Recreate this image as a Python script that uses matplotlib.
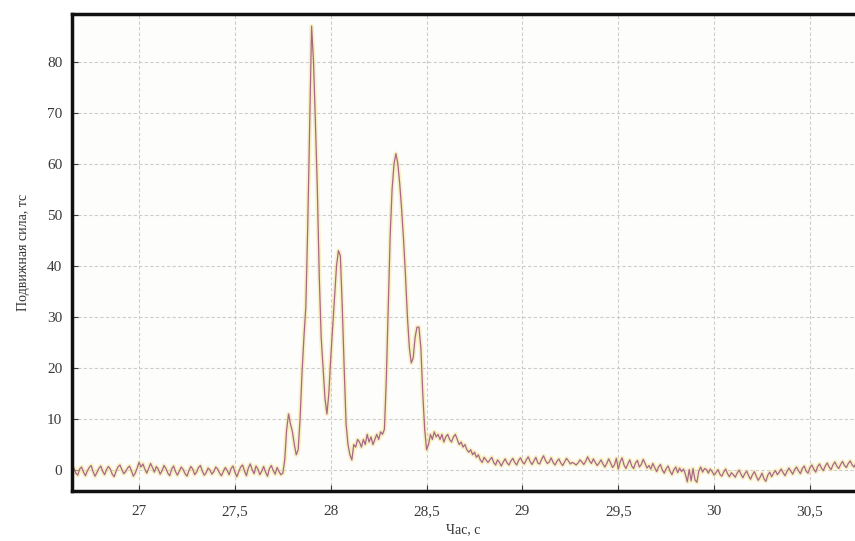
import numpy as np
import matplotlib
matplotlib.use('Agg')
from matplotlib import pyplot as plt

# signal sampled every 0.01 s starting at 26.65 s
t_start = 26.65
dt = 0.01
force = [
    -0.3, 0.4, -0.6, -1.0, 0.2, 0.6, -0.4, -1.1, -0.2, 0.5,
    0.9, -0.3, -1.2, -0.5, 0.3, 0.8, -0.2, -0.9, 0.1, 0.7,
    0.2, -0.8, -1.3, -0.2, 0.6, 1.0, 0.1, -0.7, -0.3, 0.4,
    0.8, -0.1, -1.2, -0.6, 0.4, 1.5, 0.6, 1.2, 0.2, -0.6,
    0.3, 1.3, 0.5, -0.4, 0.7, 0.2, -0.8, -0.1, 0.9, 0.3,
    -0.6, -1.1, 0.2, 0.8, -0.3, -1.0, -0.2, 0.6, 0.1, -0.7,
    -1.2, -0.1, 0.7, 0.2, -0.9, -0.4, 0.5, 0.9, -0.2, -1.0,
    -0.5, 0.4, 0.0, -0.8, -0.3, 0.6, 0.2, -0.6, -1.1, -0.2,
    0.5, -0.1, -0.9, 0.3, 0.8, -0.4, -1.3, -0.3, 0.6, 1.0,
    -0.2, -1.1, 0.4, 1.2, 0.1, -0.7, 0.8, 0.2, -0.9, -0.2,
    0.7, -0.4, -1.2, 0.3, 0.9, -0.1, -0.8, 0.5, -0.3, -0.9,
    -0.6, 2.0, 8.0, 11.0, 9.0, 7.5, 5.0, 3.0, 4.0, 10.0,
    19, 26, 32, 48, 68, 87, 80, 68, 55, 38,
    26, 20, 14, 11, 15, 22, 28, 34, 40, 43,
    42, 32, 20, 9, 5, 3, 2, 5, 4.5, 6,
    5.5, 4.5, 6, 5, 7, 5.5, 6.5, 5, 6, 7,
    6, 7.5, 7, 8, 18, 32, 46, 55, 60, 62,
    60, 56, 51, 45, 38, 30, 24, 21, 22, 26,
    28, 28, 24, 15, 8, 4, 5, 7, 6, 7.5,
    6.5, 7, 6, 7, 5.5, 6.5, 7, 6, 5.5, 6.5,
    7, 6, 5, 5.5, 4.5, 5, 4, 3.5, 4, 3,
    3.5, 2.5, 3, 2, 1.5, 2.5, 2, 1.5, 2, 2.5,
    1.5, 1.0, 2.0, 1.5, 0.8, 1.6, 2.2, 1.4, 1.0, 1.8,
    2.3, 1.5, 1.0, 1.9, 2.4, 1.6, 1.2, 2.0, 2.6, 1.7,
    1.1, 1.8, 2.5, 1.4, 1.2, 2.1, 2.8, 1.9, 1.3, 1.6,
    2.4, 1.5, 1.0, 1.7, 2.2, 1.4, 0.9, 1.6, 2.3, 1.8,
    1.2, 1.5, 1.3, 1.0, 1.4, 2.0, 1.6, 1.1, 1.7, 2.6,
    1.8, 1.3, 2.2, 1.5, 0.9, 1.4, 2.0, 1.2, 0.6, 1.3,
    2.2, 1.4, 0.5, 1.0, 2.3, 0.2, 1.6, 2.4, 1.0, 0.3,
    1.2, 2.0, 0.8, 0.3, 1.4, 1.9, 0.6, 1.1, 2.1, 1.3,
    0.4, 0.9, 0.2, 1.3, 0.5, -0.3, 0.6, 1.1, 0.0, -0.6,
    0.3, 0.8, -0.2, -0.9, 0.1, 0.6, -0.5, 0.4, -0.3, 0.2,
    -0.8, -2.3, 0.1, -2.1, 0.3, -1.9, -2.4, -0.2, 0.6, -0.4,
    0.3, 0.1, -0.6, 0.2, -0.3, -1.0, -0.5, 0.1, -0.8, -1.2,
    -0.4, 0.2, -0.7, -1.3, -0.5, -0.9, -1.4, -0.6, 0.0, -0.8,
    -1.5, -0.7, -0.2, -1.1, -1.8, -0.9, -0.3, -1.2, -2.0, -1.4,
    -0.6, -1.7, -2.2, -1.0, -0.4, -1.3, -0.6, -0.1, -0.9, -0.4,
    0.2, -0.5, -1.1, -0.3, 0.4, -0.2, -0.8, 0.1, 0.6, -0.1,
    -0.7, 0.3, 0.8, -0.2, -0.6, 0.5, 1.0, 0.2, -0.4, 0.7,
    1.2, 0.4, -0.1, 0.8, 1.4, 0.6, 0.1, 1.0, 1.6, 0.8,
    0.3, 1.1, 1.7, 0.9, 0.5, 1.3, 1.8, 1.0, 0.6, 1.4,
]
x_ticks = [27, 27.5, 28, 28.5, 29, 29.5, 30, 30.5]
x_tick_labels = ['27', '27,5', '28', '28,5', '29', '29,5', '30', '30,5']
y_ticks = [0, 10, 20, 30, 40, 50, 60, 70, 80]

time = t_start + dt * np.arange(len(force))

plt.rcParams['font.family'] = ['Liberation Serif', 'DejaVu Serif']

fig = plt.figure(figsize=(8.55, 5.41), dpi=100)
ax = fig.add_axes([0.0842, 0.0924, 0.9158, 0.882])
ax.set_facecolor('#fdfdfb')

# light yellow halo + thin line on top
ax.plot(time, force, color='#f3e48a', lw=3.2, alpha=0.5, solid_joinstyle='round')
ax.plot(time, force, color='#a86888', lw=0.9)

ax.set_xlim(26.65, 30.735)
ax.set_ylim(-4.1, 89.4)
ax.set_xticks(x_ticks)
ax.set_xticklabels(x_tick_labels)
ax.set_yticks(y_ticks)
ax.tick_params(labelsize=11, colors='#3a3a3a', length=4, width=0.8, direction='in')
ax.tick_params(axis='x', pad=10)
ax.tick_params(axis='y', pad=7)
ax.grid(True, color='#cdcdcd', lw=0.8, linestyle=(0, (3, 2)))

for side in ['left', 'top', 'bottom']:
    ax.spines[side].set_linewidth(2.5)
    ax.spines[side].set_color('#111111')
ax.spines['right'].set_visible(False)

ax.set_xlabel('Час, с', fontsize=10, color='#333333', labelpad=4)
ax.set_ylabel('Подвижная сила, тс', fontsize=10, color='#333333', labelpad=12)

fig.savefig('out.png', dpi=100)
